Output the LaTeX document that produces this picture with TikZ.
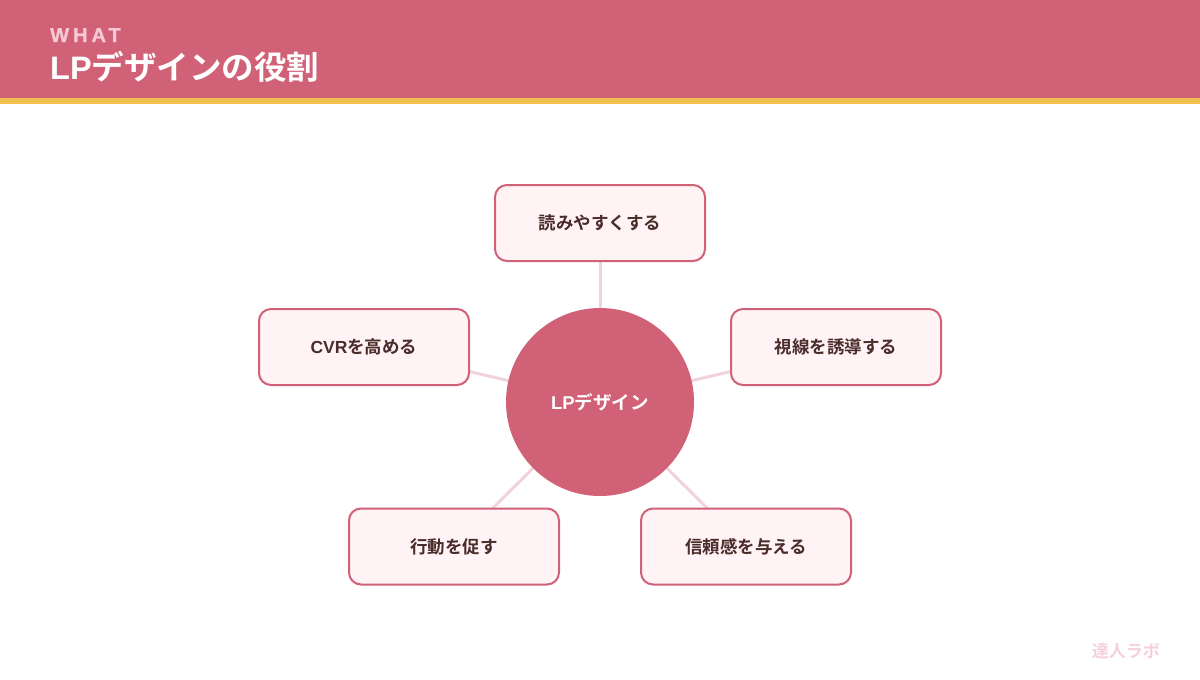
\documentclass[tikz,border=0pt]{standalone}
\usepackage{fontspec}
\setmainfont{Noto Sans CJK JP}[BoldFont={Noto Sans CJK JP Bold}]
\newfontfamily\whatfont{Liberation Sans Bold}[LetterSpace=20,FakeBold=1]
\newfontfamily\latfont{Liberation Sans}[BoldFont={Liberation Sans Bold}]
\newcommand{\lat}[1]{{\latfont\bfseries #1}}
\pgfdeclarelayer{bglayer}
\pgfdeclarelayer{linklayer}
\pgfsetlayers{bglayer,linklayer,main}
\definecolor{rosemain}{HTML}{D06176}
\definecolor{goldbar}{HTML}{F2C04C}
\definecolor{whatpink}{HTML}{F8C8D4}
\definecolor{linkpink}{HTML}{F2D2DB}
\definecolor{boxfill}{HTML}{FFF3F5}
\definecolor{textbrown}{HTML}{4A2C2A}
\definecolor{logopink}{HTML}{F5D0DA}
\tikzset{
  rolebox/.style={draw=rosemain, line width=2pt, fill=boxfill, rounded corners=12pt,
    minimum width=210pt, minimum height=76pt, inner sep=0pt,
    font=\fontsize{17.5}{20}\selectfont\bfseries, text=textbrown},
  hub/.style={circle, fill=rosemain, minimum size=188pt, inner sep=0pt,
    font=\fontsize{18.5}{21}\selectfont\bfseries, text=white},
  link/.style={draw=linkpink, line width=3pt}
}
\begin{document}
\begin{tikzpicture}[x=1pt,y=-1pt]
\useasboundingbox (0,0) rectangle (1200,680);
\begin{pgfonlayer}{bglayer}
\fill[white] (0,0) rectangle (1200,680);
\end{pgfonlayer}
\fill[rosemain] (0,0) rectangle (1200,98);
\fill[goldbar] (0,98) rectangle (1200,104);
\node[anchor=base west, inner sep=0pt, text=whatpink, font=\whatfont\fontsize{20}{22}\selectfont] (what) at (50,42) {WHAT};
\node[anchor=base west, inner sep=0pt, text=white, font=\fontsize{32.5}{36}\selectfont\bfseries] (title) at (50,79) {\lat{LP}デザインの役割};

\node[hub] (hub) at (600,402) {\lat{LP}デザイン};
\node[rolebox] (b1) at (600,223) {読みやすくする};
\node[rolebox] (b2) at (364,347) {\lat{CVR}を高める};
\node[rolebox] (b3) at (836,347) {視線を誘導する};
\node[rolebox] (b4) at (454,546.5) {行動を促す};
\node[rolebox] (b5) at (746,546.5) {信頼感を与える};
\begin{pgfonlayer}{linklayer}
\draw[link] (hub.center) -- (b1.center);
\draw[link] (hub.center) -- (b2.center);
\draw[link] (hub.center) -- (b3.center);
\draw[link] (hub.center) -- (b4.center);
\draw[link] (hub.center) -- (b5.center);
\end{pgfonlayer}

\node[anchor=base east, inner sep=0pt, text=logopink, font=\fontsize{17}{19}\selectfont\bfseries] (logo) at (1160,657) {達人ラボ};
\end{tikzpicture}
\end{document}
